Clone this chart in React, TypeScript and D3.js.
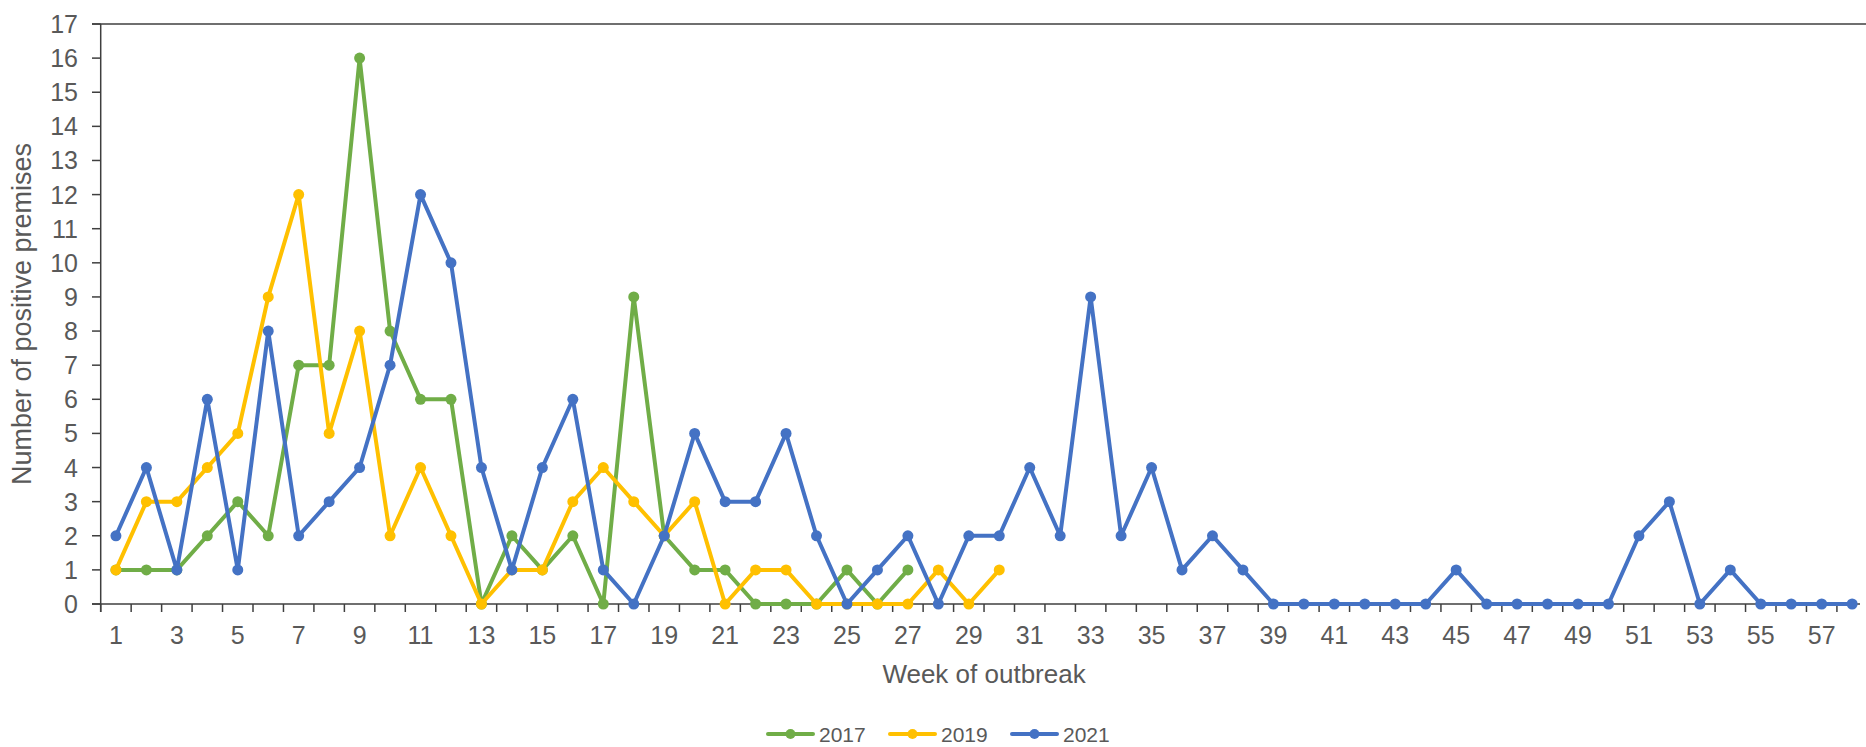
import React from "react";
import * as d3 from "d3";

// weeks shown on the x axis (the chart is cut off after week 58)
const weeks = d3.range(1, 59);

// values, one per week starting at week 1
const y2017 = [1, 1, 1, 2, 3, 2, 7, 7, 16, 8, 6, 6, 0, 2, 1, 2, 0, 9, 2, 1, 1, 0, 0, 0, 1, 0, 1];
const y2019 = [1, 3, 3, 4, 5, 9, 12, 5, 8, 2, 4, 2, 0, 1, 1, 3, 4, 3, 2, 3, 0, 1, 1, 0, 0, 0, 0, 1, 0, 1];
const y2021 = [
  2, 4, 1, 6, 1, 8, 2, 3, 4, 7, 12, 10, 4, 1, 4, 6, 1, 0, 2, 5, 3, 3, 5, 2, 0, 1, 2, 0, 2, 2,
  4, 2, 9, 2, 4, 1, 2, 1, 0, 0, 0, 0, 0, 0, 1, 0, 0, 0, 0, 0, 2, 3, 0, 1, 0, 0, 0, 0,
];

const seriesNames = ["2017", "2019", "2021"];
const seriesColors = ["#70AD47", "#FFC000", "#4472C4"];
const yTicks = d3.range(0, 18);

const width = 1866;
const height = 747;
const marginLeft = 100.7;
const marginTop = 24;
const plotBottom = 604;
const bandStep = 30.46;

const font = "'Liberation Sans', Arial, sans-serif";
const textColor = "#595959";
const axisColor = "#3f3f3f";

export default function App() {
  const x = d3
    .scaleBand<number>()
    .domain(weeks)
    .range([marginLeft, marginLeft + weeks.length * bandStep])
    .paddingInner(0)
    .paddingOuter(0);

  const y = d3.scaleLinear().domain([0, 17]).range([plotBottom, marginTop]);

  const cx = (w: number) => (x(w) as number) + x.bandwidth() / 2;

  const line = d3
    .line<number>()
    .x((_, i) => cx(i + 1))
    .y((d) => y(d));

  const allSeries = [y2017, y2019, y2021];

  const legendX = [768, 890, 1012];
  const legendY = 734;

  return (
    <svg
      width={width}
      height={height}
      style={{ position: "absolute", left: 0, top: 0, background: "#fff" }}
      fontFamily={font}
    >
      {/* top border and y ticks */}
      <line x1={92} x2={width} y1={y(17)} y2={y(17)} stroke={axisColor} strokeWidth={1.5} />
      <line x1={marginLeft} x2={marginLeft} y1={y(17)} y2={plotBottom + 8} stroke={axisColor} strokeWidth={1.5} />
      {yTicks.map((t) => (
        <g key={t}>
          <line x1={92} x2={marginLeft} y1={y(t)} y2={y(t)} stroke={axisColor} strokeWidth={1.5} />
          <text
            x={78}
            y={y(t)}
            dy="0.36em"
            textAnchor="end"
            fontSize={25}
            fill={textColor}
          >
            {t}
          </text>
        </g>
      ))}

      {/* x axis */}
      <line x1={92} x2={1860} y1={plotBottom} y2={plotBottom} stroke={axisColor} strokeWidth={1.5} />
      {weeks.map((w) => (
        <line
          key={w}
          x1={x(w) as number}
          x2={x(w) as number}
          y1={plotBottom}
          y2={plotBottom + 8}
          stroke={axisColor}
          strokeWidth={1.5}
        />
      ))}
      {weeks
        .filter((w) => w % 2 === 1)
        .map((w) => (
          <text
            key={w}
            x={cx(w)}
            y={635}
            dy="0.36em"
            textAnchor="middle"
            fontSize={25}
            fill={textColor}
          >
            {w}
          </text>
        ))}

      {/* axis titles */}
      <text
        x={(marginLeft + marginLeft + weeks.length * bandStep) / 2}
        y={683}
        textAnchor="middle"
        fontSize={26}
        fill={textColor}
      >
        Week of outbreak
      </text>
      <text
        transform={`translate(31, ${(marginTop + plotBottom) / 2}) rotate(-90)`}
        textAnchor="middle"
        fontSize={27}
        fill={textColor}
      >
        Number of positive premises
      </text>

      {/* series */}
      {allSeries.map((vals, si) => (
        <g key={seriesNames[si]}>
          <path
            d={line(vals) || ""}
            fill="none"
            stroke={seriesColors[si]}
            strokeWidth={4}
            strokeLinejoin="round"
          />
          {vals.map((v, i) => (
            <circle key={i} cx={cx(i + 1)} cy={y(v)} r={5.5} fill={seriesColors[si]} />
          ))}
        </g>
      ))}

      {/* legend */}
      {seriesNames.map((name, i) => (
        <g key={name}>
          <line
            x1={legendX[i]}
            x2={legendX[i] + 45}
            y1={legendY}
            y2={legendY}
            stroke={seriesColors[i]}
            strokeWidth={4}
            strokeLinecap="round"
          />
          <circle cx={legendX[i] + 22.5} cy={legendY} r={5} fill={seriesColors[i]} />
          <text x={legendX[i] + 51} y={legendY} dy="0.36em" fontSize={21} fill={textColor}>
            {name}
          </text>
        </g>
      ))}
    </svg>
  );
}
